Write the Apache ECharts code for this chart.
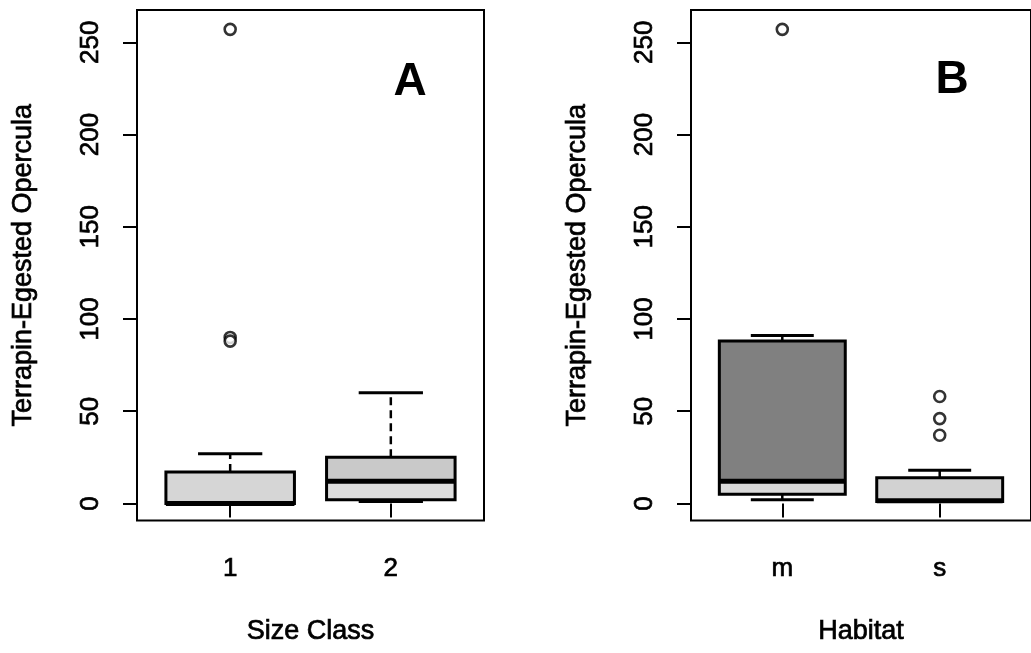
<!DOCTYPE html>
<html>
<head>
<meta charset="utf-8">
<script src="https://cdn.jsdelivr.net/npm/echarts@6/dist/echarts.min.js"></script>
<style>
  html, body { margin: 0; padding: 0; background: #fff; }
  #chart { width: 1031px; height: 653px; }
</style>
</head>
<body>
<div id="chart"></div>
<script>
// Panel A: opercula counts by terrapin size class
const sizeClasses = ['1', '2'];
// five-number summaries: [lower whisker, Q1, median, Q3, upper whisker]
const sizeBoxes = [
  [0, 0, 0, 17, 27],
  [1, 2, 12, 25, 60]
];
const sizeOutliers = [[257, 90, 88], []];

// Panel B: opercula counts by habitat
const habitats = ['m', 's'];
const habitatBoxes = [
  [2, 5, 12, 88, 91],
  [1, 1, 1.5, 14, 18]
];
const habitatOutliers = [[257], [58, 46, 37]];

const yTicks = [0, 50, 100, 150, 200, 250];
const xTicks = [1, 2];

// box shading: [below median, above median]
const shades = [
  [['#dcdcdc', '#d6d6d6'], ['#dddddd', '#c9c9c9']],
  [['#d9d9d9', '#808080'], ['#d2d2d2', '#d2d2d2']]
];

const FONT = 'Liberation Sans, Arial, Helvetica, sans-serif';
// slightly heavy text stroke for a printed look
const INK = { color: '#000', textBorderColor: '#000', textBorderWidth: 0.7, fontFamily: FONT };

function boxRenderer(panel) {
  return function (params, api) {
    const x = api.value(0);
    const lo = api.value(1), q1 = api.value(2), med = api.value(3),
          q3 = api.value(4), hi = api.value(5);
    const cx = api.coord([x, 0])[0];
    const half = api.size([0.8, 0])[0] / 2;
    const capHalf = half / 2;
    const y = v => api.coord([x, v])[1];
    const sh = shades[panel][params.dataIndex];
    const dash = { stroke: '#000', lineWidth: 2.5, lineDash: [8, 5] };
    const solid = w => ({ stroke: '#000', lineWidth: w });
    return {
      type: 'group',
      children: [
        { type: 'rect', shape: { x: cx - half, y: y(med), width: 2 * half, height: y(q1) - y(med) },
          style: { fill: sh[0] } },
        { type: 'rect', shape: { x: cx - half, y: y(q3), width: 2 * half, height: y(med) - y(q3) },
          style: { fill: sh[1] } },
        { type: 'line', shape: { x1: cx, y1: y(q3), x2: cx, y2: y(hi) }, style: dash },
        { type: 'line', shape: { x1: cx, y1: y(q1), x2: cx, y2: y(lo) }, style: dash },
        { type: 'line', shape: { x1: cx - capHalf, y1: y(hi), x2: cx + capHalf, y2: y(hi) }, style: solid(3) },
        { type: 'line', shape: { x1: cx - capHalf, y1: y(lo), x2: cx + capHalf, y2: y(lo) }, style: solid(3) },
        { type: 'rect', shape: { x: cx - half, y: y(q3), width: 2 * half, height: y(q1) - y(q3) },
          style: { fill: 'none', stroke: '#000', lineWidth: 3 } },
        { type: 'line', shape: { x1: cx - half, y1: y(med), x2: cx + half, y2: y(med) }, style: solid(5) }
      ]
    };
  };
}

function boxData(boxes) {
  return boxes.map((b, i) => [xTicks[i]].concat(b));
}
function outlierData(outs) {
  const pts = [];
  outs.forEach((list, i) => list.forEach(v => pts.push([xTicks[i], v])));
  return pts;
}

function makeX(gridIndex, names, title) {
  return {
    type: 'value', gridIndex: gridIndex, min: 0.42, max: 2.58,
    axisLine: { show: false },
    splitLine: { show: false },
    axisTick: { show: true, length: 14, customValues: xTicks, lineStyle: { color: '#000', width: 2 } },
    axisLabel: Object.assign({
      customValues: xTicks, margin: 35,
      formatter: v => names[Math.round(v) - 1],
      fontSize: 26
    }, INK),
    name: title, nameLocation: 'middle', nameGap: 98,
    nameTextStyle: Object.assign({ fontSize: 27 }, INK)
  };
}
function makeY(gridIndex) {
  return {
    type: 'value', gridIndex: gridIndex, min: -9.24, max: 267.5,
    axisLine: { show: false },
    splitLine: { show: false },
    axisTick: { show: true, length: 14, customValues: yTicks, lineStyle: { color: '#000', width: 2 } },
    axisLabel: Object.assign({
      customValues: yTicks, rotate: 90, margin: 33,
      fontSize: 26
    }, INK),
    name: 'Terrapin-Egested Opercula', nameLocation: 'middle', nameRotate: 90, nameGap: 100,
    nameTextStyle: Object.assign({ fontSize: 27 }, INK)
  };
}

const outlierStyle = {
  symbol: 'circle', symbolSize: 11,
  itemStyle: { color: '#fff', borderColor: '#000', borderWidth: 2.6 }
};

const chart = echarts.init(document.getElementById('chart'), null, { renderer: 'canvas' });
chart.setOption({
  backgroundColor: '#fff',
  animation: false,
  grid: [
    { left: 137, top: 10, width: 347, height: 510.5, show: true, borderColor: '#000', borderWidth: 2, backgroundColor: 'transparent' },
    { left: 691, top: 10, width: 347, height: 510.5, show: true, borderColor: '#000', borderWidth: 2, backgroundColor: 'transparent' }
  ],
  xAxis: [makeX(0, sizeClasses, 'Size Class'), makeX(1, habitats, 'Habitat')],
  yAxis: [makeY(0), makeY(1)],
  series: [
    { type: 'custom', xAxisIndex: 0, yAxisIndex: 0, renderItem: boxRenderer(0),
      data: boxData(sizeBoxes), encode: { x: 0, y: [1, 2, 3, 4, 5] }, clip: false },
    Object.assign({ type: 'scatter', xAxisIndex: 0, yAxisIndex: 0, data: outlierData(sizeOutliers) }, outlierStyle),
    { type: 'custom', xAxisIndex: 1, yAxisIndex: 1, renderItem: boxRenderer(1),
      data: boxData(habitatBoxes), encode: { x: 0, y: [1, 2, 3, 4, 5] }, clip: false },
    Object.assign({ type: 'scatter', xAxisIndex: 1, yAxisIndex: 1, data: outlierData(habitatOutliers) }, outlierStyle)
  ],
  graphic: [
    { type: 'text', x: 410, y: 82, style: { text: 'A', fontSize: 46, fontWeight: 'bold', fontFamily: FONT, fill: '#000', align: 'center', verticalAlign: 'middle' } },
    { type: 'text', x: 952, y: 80, style: { text: 'B', fontSize: 46, fontWeight: 'bold', fontFamily: FONT, fill: '#000', align: 'center', verticalAlign: 'middle' } }
  ]
});
</script>
</body>
</html>
